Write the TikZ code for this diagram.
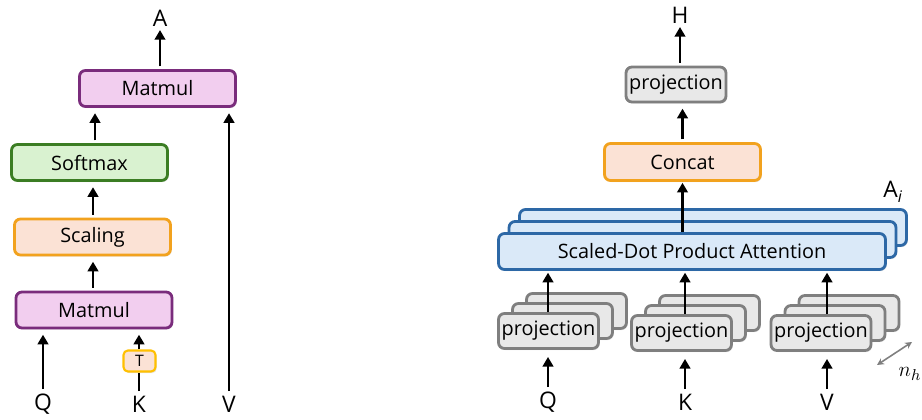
\documentclass[tikz,border=0pt]{standalone}
\usepackage{fontspec}
\setmainfont{Open Sans}
\usetikzlibrary{calc}
\usetikzlibrary{shadows}
\usetikzlibrary{arrows.meta}

\definecolor{mmline}{HTML}{7A2C7C}
\definecolor{mmfill}{HTML}{F2CEEF}
\definecolor{smline}{HTML}{3B7D23}
\definecolor{smfill}{HTML}{D9F2D0}
\definecolor{scline}{HTML}{F2A21E}
\definecolor{scfill}{HTML}{FBE2D5}
\definecolor{tline}{HTML}{FFC000}
\definecolor{atline}{HTML}{2D68A6}
\definecolor{atfill}{HTML}{DAE9F8}
\definecolor{prline}{HTML}{7F7F7F}
\definecolor{prfill}{HTML}{E8E8E8}

\begin{document}
\begin{tikzpicture}[x=0.02cm, y=-0.02cm, >={Triangle[length=5.5pt,width=6pt]},
  font=\fontsize{11.3}{13}\selectfont,
  box/.style={draw, rounded corners=3.4pt, line width=1.6pt, inner sep=0pt,
    minimum height=0.72cm,
    drop shadow={opacity=0.2, shadow xshift=0.7pt, shadow yshift=-0.9pt}},
  matmul/.style={box, draw=mmline, fill=mmfill, minimum width=3.12cm},
  softmax/.style={box, draw=smline, fill=smfill, minimum width=3.12cm},
  scaling/.style={box, draw=scline, fill=scfill, minimum width=3.12cm},
  transp/.style={box, draw=tline, fill=scfill, line width=1.2pt, rounded corners=2.5pt,
    minimum width=0.64cm, minimum height=0.42cm, font=\fontsize{9}{10}\selectfont},
  attention/.style={box, draw=atline, fill=atfill, minimum width=7.74cm},
  proj/.style={box, draw=prline, fill=prfill, minimum width=2.0cm, minimum height=0.7cm},
  label/.style={font=\fontsize{13}{15}\selectfont, inner sep=1pt},
  link/.style={->, line width=1.5pt, shorten <=1.5pt, shorten >=3pt}]

\useasboundingbox (0,0) rectangle (922,419);

% ---- scaled dot product attention
\node [matmul] (mm-2) at (157.5,88.5) {Matmul};
\node [softmax] (soft) at (89.5,162.5) {Softmax};
\node [scaling] (scal) at (92.5,237) {Scaling};
\node [matmul] (mm-1) at (94,310) {Matmul};
\node [transp] (t) at (139.5,361) {T};

\foreach \n/\l/\x in {q/Q/43, k/K/139, v/V/229}
  \node [label] (in-\n) at (\x,404) {\l};
\node [label] (out-a) at (160,18) {A};

\coordinate (axis-1) at (93,0);
\coordinate (axis-2) at (95,0);
\draw [link] (axis-1 |- mm-1.north) -- (axis-1 |- scal.south);
\draw [link] (axis-1 |- scal.north) -- (axis-1 |- soft.south);
\draw [link] (axis-2 |- soft.north) -- (axis-2 |- mm-2.south);
\draw [link, shorten >=1pt] (out-a |- mm-2.north) -- (out-a.south);

\draw [link] (in-q.north) -- (in-q.north |- mm-1.south);
\draw [line width=1.5pt, shorten <=1.5pt] (in-k.north) -- (in-k.north |- t.south);
\draw [link, shorten <=0pt] (in-k |- t.north) -- (in-k |- mm-1.south);
\draw [link] (in-v.north) -- (in-v.north |- mm-2.south);

% ---- multi-head attention
\foreach \l/\dx/\dy in {3/21/24, 2/10.5/12, 1/0/0}
  \node [attention] (sdpa-\l) at (692+\dx,251.5-\dy) {};
\node at (sdpa-1) {Scaled-Dot Product Attention};
\node [label] (ai) at (893,192) {A\textsubscript{\itshape i}};

\foreach \m/\x/\y in {q/548.5/331, k/681.5/333, v/821/333}
  \foreach \l/\dx/\dy in {3/28/20, 2/14/10, 1/0/0}
    \node [proj] (proj-\m-\l) at (\x+\dx,\y-\dy) {};
\foreach \m in {q,k,v}
  \node at (proj-\m-1) {projection};

\node [attention, draw=scline, fill=scfill, minimum width=3.12cm, minimum height=0.74cm] (concat) at (682.5,162) {Concat};
\node [proj] (ptop) at (676,84.5) {projection};

\foreach \n/\l/\x in {q/Q/548, k/K/685, v/V/827}
  \node [label] (head-\n) at (\x,402) {\l};
\node [label] (out-h) at (680,15) {H};

\foreach \n in {q,k,v} {
  \draw [link, shorten >=4pt] (head-\n.north) -- (head-\n.north |- proj-\n-1.south);
  \draw [link, shorten <=0pt, shorten >=1pt] (head-\n |- proj-\n-1.north) -- (head-\n |- sdpa-1.south);
}

\draw [link, shorten <=0pt, shorten >=0.5pt] (concat.south |- sdpa-1.north) -- (concat.south);
\draw [link] (concat.north) -- (concat.north |- ptop.south);
\draw [link, shorten >=1pt] (out-h |- ptop.north) -- (out-h.south);

% n_h
\coordinate (nh-a) at (877,365);
\coordinate (nh-b) at (912,342);
\draw [{Stealth[length=4pt,width=4pt]}-{Stealth[length=4pt,width=4pt]}, prline, line width=0.9pt] (nh-a) -- (nh-b);
\node (nh) at (910,374) {\fontsize{13}{15}\selectfont$n_h$};

\end{tikzpicture}
\end{document}
